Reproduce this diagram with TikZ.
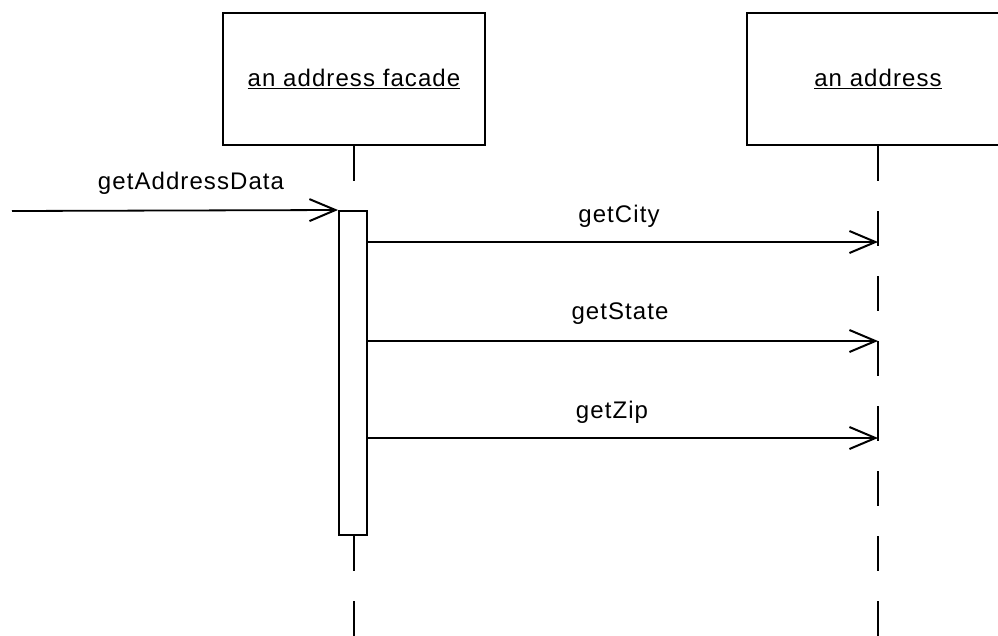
\documentclass[tikz,border=0pt]{standalone}
\usepackage{fontspec}
\setmainfont[LetterSpace=4.5]{Liberation Sans}
\usetikzlibrary{arrows.meta}
\begin{document}
\begin{tikzpicture}[x=1pt,y=-1pt,
  obj/.style={draw, line width=2pt, minimum width=262pt, minimum height=132pt, inner sep=0pt, font=\fontsize{24}{28}\selectfont},
  lbl/.style={inner sep=0pt, font=\fontsize{24}{28}\selectfont},
  life/.style={line width=2pt, dash pattern=on 35pt off 30pt},
  act/.style={draw, line width=2pt, fill=white, minimum width=28pt, minimum height=324pt, inner sep=0pt},
  msg/.style={line width=1.8pt, -{Straight Barb[length=26pt,width=22pt,line width=2pt]}}]
\clip (0,0) rectangle (998,635);
\node[obj] (fac) at (354,79) {\underline{an address facade}};
\node[obj] (addr) at (878,79) {\underline{an address}};
\coordinate (facend) at (354,640);
\coordinate (addrend) at (878,640);
\draw[life] (fac.south) -- (facend);
\draw[life] (addr.south) -- (addrend);
\node[act] (bar) at (353,373) {};
\coordinate (start) at (12,211);
\coordinate (c1) at (878,242);
\coordinate (c2) at (878,341);
\coordinate (c3) at (878,438);
\draw[msg] (start) -- (bar.north west);
\draw[msg] (bar.east |- c1) -- (c1);
\draw[msg] (bar.east |- c2) -- (c2);
\draw[msg] (bar.east |- c3) -- (c3);
\node[lbl] (l0) at (191,183) {getAddressData};
\node[lbl] (l1) at (619,216) {getCity};
\node[lbl] (l2) at (620,314) {getState};
\node[lbl] (l3) at (612,412) {getZip};
\end{tikzpicture}
\end{document}
